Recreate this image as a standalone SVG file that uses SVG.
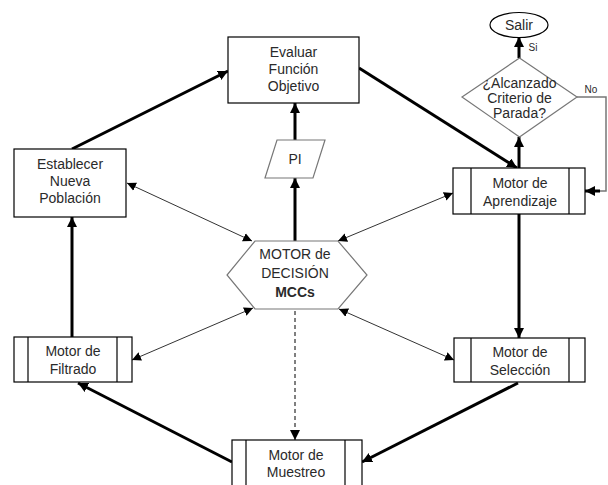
<svg xmlns="http://www.w3.org/2000/svg" width="608" height="485" viewBox="0 0 608 485">
<style>
text{font-family:"Liberation Sans",Arial,sans-serif;font-size:14px;fill:#2a2a2a;text-anchor:middle}
.sm{font-size:10px}
.box{fill:#fff;stroke:#000;stroke-width:1.2}
.grey{fill:#fff;stroke:#777;stroke-width:1.2}
.thick{stroke:#000;stroke-width:3;fill:none}
.thin{stroke:#333;stroke-width:1;fill:none}
.dash{stroke:#000;stroke-width:1;fill:none;stroke-dasharray:4,3}
.no{stroke:#777;stroke-width:1.5;fill:none}
</style>
<defs>
<marker id="ah" viewBox="0 0 10 10" refX="10" refY="5" markerWidth="10" markerHeight="10" markerUnits="userSpaceOnUse" orient="auto"><path d="M0,0L10,5L0,10z" fill="#000"/></marker>
<marker id="as" viewBox="0 0 10 10" refX="10" refY="5" markerWidth="9" markerHeight="9" markerUnits="userSpaceOnUse" orient="auto-start-reverse"><path d="M0,0L10,5L0,10z" fill="#000"/></marker>
</defs>
<g id="connectors">
<line class="thick" x1="519" y1="58" x2="519" y2="37" marker-end="url(#ah)"/>
<line class="thick" x1="519" y1="168" x2="519" y2="137" marker-end="url(#ah)"/>
<polyline class="no" points="577,97 606,97 606,191 595,191"/>
<line class="thick" x1="600" y1="191" x2="585" y2="191" marker-end="url(#ah)"/>
<line class="thick" x1="359" y1="68" x2="517" y2="168" marker-end="url(#ah)"/>
<line class="thick" x1="295" y1="140" x2="295" y2="103" marker-end="url(#ah)"/>
<line class="thick" x1="295" y1="241" x2="295" y2="178" marker-end="url(#ah)"/>
<line class="thick" x1="72" y1="149" x2="228" y2="71" marker-end="url(#ah)"/>
<line class="thick" x1="72" y1="337" x2="72" y2="217" marker-end="url(#ah)"/>
<line class="thick" x1="519" y1="214" x2="519" y2="338" marker-end="url(#ah)"/>
<line class="thick" x1="518" y1="383" x2="362" y2="462" marker-end="url(#ah)"/>
<line class="thick" x1="232" y1="462" x2="78" y2="383" marker-end="url(#ah)"/>
<line class="dash" x1="295" y1="311" x2="295" y2="440" marker-end="url(#ah)"/>
<line class="thin" x1="127" y1="183" x2="252" y2="241" marker-start="url(#as)" marker-end="url(#as)"/>
<line class="thin" x1="453" y1="193" x2="338" y2="241" marker-start="url(#as)" marker-end="url(#as)"/>
<line class="thin" x1="132" y1="360" x2="253" y2="308" marker-start="url(#as)" marker-end="url(#as)"/>
<line class="thin" x1="454" y1="360" x2="339" y2="309" marker-start="url(#as)" marker-end="url(#as)"/>
</g>
<g id="salir">
<ellipse class="box" cx="519" cy="25" rx="29" ry="12.5"/>
<text x="519" y="30">Salir</text>
<text class="sm" x="533" y="51">Si</text>
</g>
<g id="criterio">
<polygon class="grey" points="519.5,58 577,97 519.5,137 462,97"/>
<text x="519.5" y="88">¿Alcanzado</text>
<text x="519.5" y="103">Criterio de</text>
<text x="519.5" y="118">Parada?</text>
<text class="sm" x="591" y="93">No</text>
</g>
<g id="evaluar">
<rect class="box" x="228" y="37" width="131" height="66"/>
<text x="293.5" y="57">Evaluar</text>
<text x="293.5" y="74">Función</text>
<text x="293.5" y="91">Objetivo</text>
</g>
<g id="pi">
<polygon class="grey" points="277,140 325,140 313,178 265,178"/>
<text x="295" y="164">PI</text>
</g>
<g id="establecer">
<rect class="box" x="14" y="149" width="112" height="68"/>
<text x="70" y="169">Establecer</text>
<text x="70" y="186">Nueva</text>
<text x="70" y="203">Población</text>
</g>
<g id="aprendizaje">
<rect class="box" x="453" y="168" width="132" height="46"/>
<line class="box" x1="471" y1="168" x2="471" y2="214"/>
<line class="box" x1="569" y1="168" x2="569" y2="214"/>
<text x="520" y="188">Motor de</text>
<text x="520" y="206">Aprendizaje</text>
</g>
<g id="decision">
<polygon class="grey" points="255,241 338,241 367,275 338,309 255,309 227,275"/>
<text x="295" y="259">MOTOR de</text>
<text x="295" y="278">DECISIÓN</text>
<text x="295" y="297" font-weight="bold">MCCs</text>
</g>
<g id="filtrado">
<rect class="box" x="14" y="337" width="118" height="45"/>
<line class="box" x1="28" y1="337" x2="28" y2="382"/>
<line class="box" x1="117" y1="337" x2="117" y2="382"/>
<text x="73" y="356">Motor de</text>
<text x="73" y="374">Filtrado</text>
</g>
<g id="seleccion">
<rect class="box" x="454" y="338" width="131" height="44"/>
<line class="box" x1="471" y1="338" x2="471" y2="382"/>
<line class="box" x1="569" y1="338" x2="569" y2="382"/>
<text x="520" y="357">Motor de</text>
<text x="520" y="375">Selección</text>
</g>
<g id="muestreo">
<rect class="box" x="232" y="440" width="130" height="50"/>
<line class="box" x1="246" y1="440" x2="246" y2="490"/>
<line class="box" x1="345" y1="440" x2="345" y2="490"/>
<text x="296" y="460">Motor de</text>
<text x="296" y="477">Muestreo</text>
</g>
</svg>
